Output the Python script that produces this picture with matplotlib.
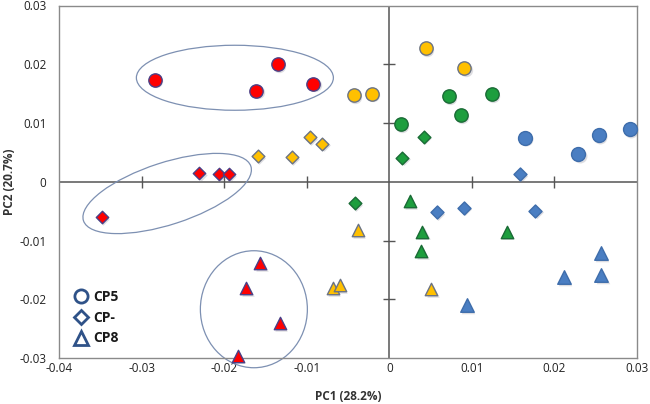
import matplotlib
matplotlib.use("Agg")
import matplotlib.pyplot as plt
from matplotlib.lines import Line2D
from matplotlib.patches import Ellipse
from matplotlib.transforms import ScaledTranslation

plt.rcParams['font.family'] = ['Open Sans', 'DejaVu Sans']

# ---- data ----
# CP5 (circles)
cp5_red_x = [-0.0284, -0.0135, -0.0161, -0.0092]
cp5_red_y = [0.0174, 0.0200, 0.0155, 0.0167]
cp5_yellow_x = [-0.0043, -0.0021, 0.0044, 0.0091]
cp5_yellow_y = [0.0148, 0.0150, 0.0227, 0.0194]
cp5_green_x = [0.0014, 0.0072, 0.0087, 0.0124]
cp5_green_y = [0.0098, 0.0146, 0.0114, 0.0149]
cp5_blue_x = [0.0164, 0.0229, 0.0254, 0.0291]
cp5_blue_y = [0.0075, 0.0047, 0.0079, 0.0090]
# CP- (diamonds)
cpm_red_x = [-0.0230, -0.0206, -0.0194, -0.0348]
cpm_red_y = [0.0015, 0.0013, 0.0013, -0.0060]
cpm_yellow_x = [-0.0159, -0.0118, -0.0096, -0.0081]
cpm_yellow_y = [0.0044, 0.0042, 0.0076, 0.0065]
cpm_green_x = [-0.0042, 0.0016, 0.0042]
cpm_green_y = [-0.0036, 0.0041, 0.0077]
cpm_blue_x = [0.0158, 0.0058, 0.0090, 0.0177]
cpm_blue_y = [0.0013, -0.0051, -0.0044, -0.0049]
# CP8 (triangles)
cp8_red_x = [-0.0156, -0.0173, -0.0132, -0.0183]
cp8_red_y = [-0.0138, -0.0181, -0.0240, -0.0296]
cp8_yellow_x = [-0.0038, -0.0068, -0.0060, 0.0051]
cp8_yellow_y = [-0.0082, -0.0181, -0.0176, -0.0183]
cp8_green_x = [0.0025, 0.0040, 0.0039, 0.0142]
cp8_green_y = [-0.0033, -0.0085, -0.0118, -0.0085]
cp8_blue_x = [0.0094, 0.0211, 0.0256, 0.0257]
cp8_blue_y = [-0.0210, -0.0162, -0.0121, -0.0159]

# group ellipses: centre (data) , width/height (inches), angle (deg)
ell_cx = [-0.0187, -0.0269, -0.0164]
ell_cy = [0.0177, -0.0020, -0.0217]
ell_w = [1.97, 1.76, 1.07]
ell_h = [0.65, 0.62, 1.17]
ell_angle = [0, 18, 0]

x_ticks = [-0.04, -0.03, -0.02, -0.01, 0, 0.01, 0.02, 0.03]
y_ticks = [-0.03, -0.02, -0.01, 0, 0.01, 0.02, 0.03]
x_tick_labels = ['-0.04', '-0.03', '-0.02', '-0.01', '0', '0.01', '0.02', '0.03']
y_tick_labels = ['-0.03', '-0.02', '-0.01', '0', '0.01', '0.02', '0.03']
legend_labels = ['CP5', 'CP-', 'CP8']

colors = {'red': '#ff0000', 'yellow': '#ffc000', 'green': '#1d9e3e', 'blue': '#4a7ec2'}
edges = {'red': '#4a3f86', 'yellow': '#6b7383', 'green': '#1a6b36', 'blue': '#3e6dab'}

fig = plt.figure(figsize=(6.5, 4.04), dpi=100)
ax = fig.add_axes([59 / 650, 46 / 404, 578 / 650, 352.5 / 404])
ax.set_xlim(-0.04, 0.03)
ax.set_ylim(-0.03, 0.03)

for sp in ax.spines.values():
    sp.set_color('#8a8a8a')
    sp.set_linewidth(1.0)

ax.axhline(0, color='#555555', lw=1.1, zorder=1)
ax.axvline(0, color='#555555', lw=1.1, zorder=1)
inner_x = [t for t in x_ticks if t not in (0, -0.04, 0.03)]
inner_y = [t for t in y_ticks if t not in (0, -0.03, 0.03)]
ax.plot(inner_x, [0] * len(inner_x), ls='', marker='|', ms=8, mew=1.0, color='#555555', zorder=1)
ax.plot([0] * len(inner_y), inner_y, ls='', marker='_', ms=8, mew=1.0, color='#555555', zorder=1)

ax.set_xticks(x_ticks)
ax.set_xticklabels(x_tick_labels)
ax.set_yticks(y_ticks)
ax.set_yticklabels(y_tick_labels)
ax.tick_params(length=0, labelsize=8.5, colors='#222222')
ax.tick_params(axis='x', pad=3)
ax.tick_params(axis='y', pad=9)

ax.set_xlabel('PC1 (28.2%)', fontsize=8.5, fontweight='bold', color='#333333')
ax.set_ylabel('PC2 (20.7%)', fontsize=8.5, fontweight='bold', color='#333333')
ax.xaxis.set_label_coords(0.5, -(397 - 358) / 352.5)
ax.yaxis.set_label_coords(-(59 - 9) / 578, 0.5)
ax.yaxis.label.set_va('center')
ax.xaxis.label.set_va('center')

shadow = ax.transData + ScaledTranslation(1.2 / 100, -1.8 / 100, fig.dpi_scale_trans)

series = [
    ('o', 92, 'red', cp5_red_x, cp5_red_y),
    ('o', 92, 'yellow', cp5_yellow_x, cp5_yellow_y),
    ('o', 92, 'green', cp5_green_x, cp5_green_y),
    ('o', 100, 'blue', cp5_blue_x, cp5_blue_y),
    ('D', 40, 'red', cpm_red_x, cpm_red_y),
    ('D', 42, 'yellow', cpm_yellow_x, cpm_yellow_y),
    ('D', 42, 'green', cpm_green_x, cpm_green_y),
    ('D', 44, 'blue', cpm_blue_x, cpm_blue_y),
    ('^', 80, 'red', cp8_red_x, cp8_red_y),
    ('^', 80, 'yellow', cp8_yellow_x, cp8_yellow_y),
    ('^', 80, 'green', cp8_green_x, cp8_green_y),
    ('^', 95, 'blue', cp8_blue_x, cp8_blue_y),
]
for mk, s, c, xs, ys in series:
    ax.scatter(xs, ys, marker=mk, s=s, color='#7a7a8a', alpha=0.25, lw=0,
               transform=shadow, zorder=2, clip_on=False)
    ax.scatter(xs, ys, marker=mk, s=s, facecolor=colors[c], edgecolor=edges[c],
               linewidths=1.0, zorder=3, clip_on=False)

for cx, cy, w, h, a in zip(ell_cx, ell_cy, ell_w, ell_h, ell_angle):
    tr = fig.dpi_scale_trans + ScaledTranslation(cx, cy, ax.transData)
    e = Ellipse((0, 0), w, h, angle=a, transform=tr, fill=False,
                edgecolor='#7d90b2', lw=0.9, zorder=2, clip_on=False)
    ax.add_patch(e)

lc = '#2f5288'
handles = [Line2D([], [], ls='', marker=m, mfc='white', mec=lc, mew=2.0, ms=ms)
           for m, ms in zip(['o', 'D', '^'], [9.5, 7.5, 9.5])]
leg = ax.legend(handles, legend_labels, loc='lower left', bbox_to_anchor=(0.005, 0.0),
                frameon=False, handlelength=1.0, handletextpad=0.35, labelspacing=0.5,
                prop={'weight': 'bold', 'size': 10})
for t in leg.get_texts():
    t.set_color('#1a1a1a')

fig.savefig('out.png', dpi=100)
